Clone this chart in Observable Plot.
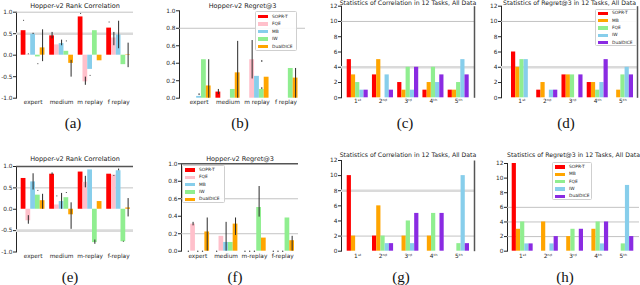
<!DOCTYPE html>
<html><head><meta charset="utf-8">
<script src="https://cdn.jsdelivr.net/npm/d3@7"></script>
<script src="https://cdn.jsdelivr.net/npm/@observablehq/plot@0.6"></script>
<style>
body{margin:0;background:#fff;}
#fig{position:relative;width:640px;height:285px;overflow:hidden;background:#fff;}
.cap{position:absolute;font-family:"Liberation Serif","DejaVu Serif",serif;font-size:15px;color:#111;transform:translate(-50%,-50%);white-space:nowrap;}
.legend{position:absolute;background:rgba(255,255,255,0.9);border:0.8px solid #cfcfcf;border-radius:1.5px;box-sizing:border-box;}
.sw{position:absolute;width:10px;height:3.4px;}
.lt{position:absolute;font-family:"DejaVu Sans",sans-serif;font-size:4.4px;line-height:6px;color:#222;white-space:nowrap;}
</style></head>
<body><div id="fig"></div>
<script>
// ---- categories and series ----
const regimesTop = ["expert", "medium", "m replay", "f replay"];
const regimesBottom = ["expert", "medium", "m-replay", "f-replay"];
const ranks = ["1ˢᵗ", "2ⁿᵈ", "3ʳᵈ", "4ᵗʰ", "5ᵗʰ"];
const hopperMethods = ["SOPR-T", "FQE", "MB", "IW", "DualDICE"];
const hopperColors = ["#ff0000", "#ffc0cb", "#87ceeb", "#90ee90", "#ffa500"];
const statMethods = ["SOPR-T", "MB", "FQE", "IW", "DualDICE"];
const statColors = ["#ff0000", "#ffa500", "#90ee90", "#87ceeb", "#8a2be2"];

// (a) rank correlation, rows = methods, cols = regimes
const rankCorrA = [
  [0.57, 0.45, 0.89, 0.63],
  [0.01, 0.24, -0.62, 0.40],
  [0.49, 0.27, -0.33, 0.47],
  [-0.04, 0.09, 0.57, -0.22],
  [0.17, -0.19, -0.13, 0.01]
];
const rankCorrAErr = [
  ["SOPR-T","expert",0.79,0.81],["FQE","expert",0.01,0.03],["MB","expert",0.48,0.51],
  ["IW","expert",-0.22,-0.20],["DualDICE","expert",-0.15,0.59],
  ["SOPR-T","medium",0.38,0.53],["MB","medium",0.22,0.35],["IW","medium",0.31,0.33],
  ["DualDICE","medium",-0.51,-0.12],
  ["SOPR-T","m replay",0.95,0.97],["FQE","m replay",-0.70,-0.51],["MB","m replay",-0.49,-0.47],
  ["SOPR-T","f replay",0.75,0.77],["FQE","f replay",0.22,0.53],["MB","f replay",0.15,0.79],
  ["DualDICE","f replay",-0.29,0.28]
];
// (b) regret@3
const regretB = [
  [0, 0.07, 0, 0],
  [0, 0, 0.44, 0],
  [0.02, 0, 0.25, 0],
  [0.44, 0.10, 0.10, 0.34],
  [0.14, 0.29, 0.24, 0.23]
];
const regretBErr = [
  ["MB","expert",0.03,0.05],["DualDICE","expert",0.0,0.44],
  ["SOPR-T","medium",0.04,0.10],["DualDICE","medium",0.0,0.65],
  ["FQE","m replay",0.22,0.66],["IW","m replay",0.10,0.12],["IW","m replay",0.41,0.43],
  ["DualDICE","f replay",0.0,0.34]
];
// (c) correlation rank counts, rows = methods, cols = ranks
const corrCountsC = [
  [5, 3, 2, 1, 1],
  [3, 5, 1, 2, 1],
  [2, 0, 4, 4, 2],
  [1, 3, 1, 2, 5],
  [1, 1, 4, 3, 3]
];
// (d) regret rank counts
const regretCountsD = [
  [6, 1, 3, 2, 0],
  [4, 2, 3, 2, 1],
  [5, 0, 3, 1, 3],
  [5, 1, 0, 2, 4],
  [0, 1, 3, 5, 3]
];
// (e) rank correlation
const rankCorrE = [
  [0.72, 0.82, 0.87, 0.82],
  [-0.27, 0.10, 0.63, 0.80],
  [0.64, 0.18, 0.92, 0.90],
  [0.33, 0.27, -0.78, -0.76],
  [0.20, -0.13, 0.18, 0.03]
];
const rankCorrEErr = [
  ["FQE","expert",-0.35,-0.15],["MB","expert",0.45,0.83],["IW","expert",0.42,0.44],
  ["DualDICE","expert",0.0,0.35],
  ["SOPR-T","medium",0.80,0.85],["FQE","medium",0.29,0.31],["MB","medium",0.0,0.37],
  ["IW","medium",0.37,0.39],["DualDICE","medium",-0.47,0.15],
  ["FQE","m-replay",0.50,0.77],["IW","m-replay",-0.82,-0.72],
  ["FQE","f-replay",0.77,0.79],["MB","f-replay",0.90,0.94],["IW","f-replay",-0.77,-0.75],
  ["DualDICE","f-replay",-0.18,0.25]
];
// (f) regret@3
const regretF = [
  [0, 0, 0, 0],
  [0.31, 0.17, 0, 0],
  [0, 0.10, 0, 0],
  [0, 0.10, 0.50, 0.38],
  [0.22, 0.31, 0.15, 0.12]
];
const regretFErr = [
  ["FQE","expert",0.29,0.33],["DualDICE","expert",0.0,0.38],
  ["MB","medium",0.0,0.33],["DualDICE","medium",0.18,0.38],
  ["IW","m-replay",0.39,0.74],["DualDICE","f-replay",0.0,0.17]
];
// (g) correlation rank counts
const corrCountsG = [
  [10, 2, 0, 0, 0],
  [2, 6, 2, 2, 0],
  [0, 2, 4, 5, 1],
  [0, 1, 1, 0, 10],
  [0, 1, 5, 5, 1]
];
// (h) regret rank counts
const regretCountsH = [
  [12, 0, 0, 0, 0],
  [3, 4, 2, 3, 0],
  [4, 0, 3, 4, 1],
  [1, 1, 0, 1, 9],
  [1, 2, 3, 4, 2]
];
const corrTicks = [-1, -0.5, 0, 0.5, 1];
const regretTicks = [0, 0.2, 0.4, 0.6, 0.8, 1.0];
const countTicks = [0, 2, 4, 6, 8, 10, 12];

const fig = document.getElementById("fig");
const fmt1 = d => d.toFixed(1);
const fmtInt = d => String(d);

function drawPanel(p) {
  const [left, top, W, H] = p.box;
  const [fx0, fx1, fy0, fy1] = p.frame;
  const rows = [];
  p.methods.forEach((m, i) => p.cats.forEach((c, j) =>
    rows.push({key: c + "|" + m, cat: c, method: m, value: p.values[i][j]})));
  const domain = [];
  p.cats.forEach((c, j) => {
    p.methods.forEach(m => domain.push(c + "|" + m));
    if (j < p.cats.length - 1) domain.push(c + "|gap");
  });
  const mid = p.methods[Math.floor(p.methods.length / 2)];
  const errs = (p.errors || []).map(([m, c, lo, hi]) => ({key: c + "|" + m, lo, hi}));
  const fw = fx1 - fx0, fh = fy1 - fy0;
  const marks = [];
  if (p.thick) marks.push(Plot.ruleY(p.thick, {stroke: "#dadada", strokeWidth: 2.6}));
  if (p.thin) marks.push(Plot.ruleY(p.thin, {stroke: "#bcbcbc", strokeWidth: 0.9}));
  marks.push(Plot.barY(rows, {x: "key", y: "value", fill: "method"}));
  if (errs.length) marks.push(Plot.ruleX(errs, {x: "key", y1: "lo", y2: "hi", stroke: "#2a2a2a", strokeWidth: 1}));
  if (p.zeroDots) marks.push(Plot.dot(rows.filter(d => d.value === 0), {x: "key", y: "value", r: 0.7, fill: "#444", stroke: null}));
  if (p.topLine) marks.push(Plot.ruleY([p.yDomain[1]], {stroke: "#555", strokeWidth: 1.5}));
  if (p.rightLine) marks.push(Plot.frame({stroke: "#555", strokeWidth: 1.5, fill: "none",
    strokeDasharray: `0 ${fw} ${fh} ${fw + fh + 10}`}));
  marks.push(Plot.text([p.title], {frameAnchor: "top", text: d => d, dy: p.titleDy,
    fontSize: p.titleSize, lineAnchor: "middle", fill: "#222"}));
  const svg = Plot.plot({
    width: W, height: H,
    marginLeft: fx0 - left, marginRight: left + W - fx1,
    marginTop: fy0 - top, marginBottom: top + H - fy1,
    style: {fontFamily: "DejaVu Sans, sans-serif", fontSize: "5.8px", color: "#262626", background: "transparent", overflow: "visible"},
    x: {domain, range: [p.xRange[0] - left, p.xRange[1] - left], padding: 0, round: false, tickSize: 0,
        tickPadding: p.xPad, label: null,
        tickFormat: k => k.endsWith("|" + mid) ? k.split("|")[0] : ""},
    y: {domain: p.yDomain, ticks: p.yTicks, tickFormat: p.yFmt, tickSize: 3, tickPadding: 1,
        line: true, label: null},
    color: {domain: p.methods, range: p.colors},
    marks
  });
  svg.style.position = "absolute";
  svg.style.left = left + "px";
  svg.style.top = top + "px";
  fig.appendChild(svg);
}

function drawLegend(l) {
  const box = document.createElement("div");
  box.className = "legend";
  Object.assign(box.style, {left: l.left + "px", top: l.top + "px", width: l.width + "px", height: l.height + "px"});
  l.methods.forEach((m, i) => {
    const y = l.first + i * l.step;
    const sw = document.createElement("div");
    sw.className = "sw";
    Object.assign(sw.style, {left: "2px", top: (y - 1.7) + "px", background: l.colors[i]});
    const tx = document.createElement("div");
    tx.className = "lt";
    tx.textContent = m;
    Object.assign(tx.style, {left: "16px", top: (y - 3) + "px"});
    box.append(sw, tx);
  });
  fig.appendChild(box);
}

function caption(text, x, y) {
  const d = document.createElement("div");
  d.className = "cap";
  d.textContent = text;
  d.style.left = x + "px";
  d.style.top = y + "px";
  fig.appendChild(d);
}

drawPanel({box: [0, 0, 160, 120], frame: [16, 133, 11.7, 97.7], xRange: [20.7, 130],
  cats: regimesTop, methods: hopperMethods, colors: hopperColors, values: rankCorrA, errors: rankCorrAErr,
  yDomain: [-1, 1], yTicks: corrTicks, yFmt: fmt1, title: "Hopper-v2 Rank Correlation",
  titleDy: -6, titleSize: 6.5, thin: [1], thick: [0.5], xPad: 2});
drawPanel({box: [160, 0, 160, 120], frame: [179, 305, 10.3, 97.7], xRange: [186.5, 297.5],
  cats: regimesTop, methods: hopperMethods, colors: hopperColors, values: regretB, errors: regretBErr,
  yDomain: [0, 1], yTicks: regretTicks, yFmt: fmt1, title: "Hopper-v2 Regret@3",
  titleDy: -4.6, titleSize: 6.5, thin: [0.8], xPad: 2});
drawPanel({box: [320, 0, 160, 120], frame: [341, 474, 5.7, 97.3], xRange: [346.7, 468.7],
  cats: ranks, methods: statMethods, colors: statColors, values: corrCountsC,
  yDomain: [0, 12], yTicks: countTicks, yFmt: fmtInt, title: "Statistics of Correlation in 12 Tasks, All Data",
  titleDy: -2.7, titleSize: 6.2, thin: [10], thick: [4], rightLine: true, xPad: 1});
drawPanel({box: [480, 0, 160, 120], frame: [501, 637, 5.7, 97.3], xRange: [511, 633],
  cats: ranks, methods: statMethods, colors: statColors, values: regretCountsD,
  yDomain: [0, 12], yTicks: countTicks, yFmt: fmtInt, title: "Statistics of Regret@3 in 12 Tasks, All Data",
  titleDy: -2.7, titleSize: 6.2, thin: [10], thick: [4], rightLine: true, xPad: 1});
drawPanel({box: [0, 140, 160, 125], frame: [16, 133, 166, 251.5], xRange: [20.7, 130],
  cats: regimesBottom, methods: hopperMethods, colors: hopperColors, values: rankCorrE, errors: rankCorrEErr,
  yDomain: [-1, 1], yTicks: corrTicks, yFmt: fmt1, title: "Hopper-v2 Rank Correlation",
  titleDy: -7.7, titleSize: 6.5, thin: [0.5], thick: [-0.5], topLine: true, xPad: 2});
drawPanel({box: [160, 140, 160, 125], frame: [181, 298, 163.3, 250.7], xRange: [185.5, 294],
  cats: regimesBottom, methods: hopperMethods, colors: hopperColors, values: regretF, errors: regretFErr,
  yDomain: [0, 1], yTicks: regretTicks, yFmt: fmt1, title: "Hopper-v2 Regret@3",
  titleDy: -5.3, titleSize: 6.5, thin: [0.6, 0.2], topLine: true, zeroDots: true, xPad: 2.5});
drawPanel({box: [320, 140, 160, 125], frame: [341, 474, 160, 250.7], xRange: [346.7, 469],
  cats: ranks, methods: statMethods, colors: statColors, values: corrCountsG,
  yDomain: [0, 12], yTicks: countTicks, yFmt: fmtInt, title: "Statistics of Correlation in 12 Tasks, All Data",
  titleDy: -5, titleSize: 6.2, thin: [2], thick: [8], rightLine: true, xPad: 2.5});
drawPanel({box: [480, 140, 160, 125], frame: [507, 639, 163, 250.7], xRange: [511.7, 633.3],
  cats: ranks, methods: statMethods, colors: statColors, values: regretCountsH,
  yDomain: [0, 12], yTicks: countTicks, yFmt: fmtInt, title: "Statistics of Regret@3 in 12 Tasks, All Data",
  titleDy: -8, titleSize: 6.2, thin: [6, 4, 2], xPad: 2.5});

drawLegend({left: 255, top: 11, width: 42, height: 40, first: 4.6, step: 7.5, methods: hopperMethods, colors: hopperColors});
drawLegend({left: 595, top: 8.5, width: 42, height: 37, first: 3.8, step: 7.35, methods: statMethods, colors: statColors});
drawLegend({left: 182, top: 165, width: 43, height: 38, first: 4, step: 7.3, methods: hopperMethods, colors: hopperColors});
drawLegend({left: 552, top: 162, width: 40, height: 38, first: 4, step: 7.3, methods: statMethods, colors: statColors});

caption("(a)", 73, 123); caption("(b)", 240, 123); caption("(c)", 405, 123); caption("(d)", 566, 123);
caption("(e)", 70, 277); caption("(f)", 235, 277); caption("(g)", 401, 277); caption("(h)", 565, 277);
</script></body></html>
